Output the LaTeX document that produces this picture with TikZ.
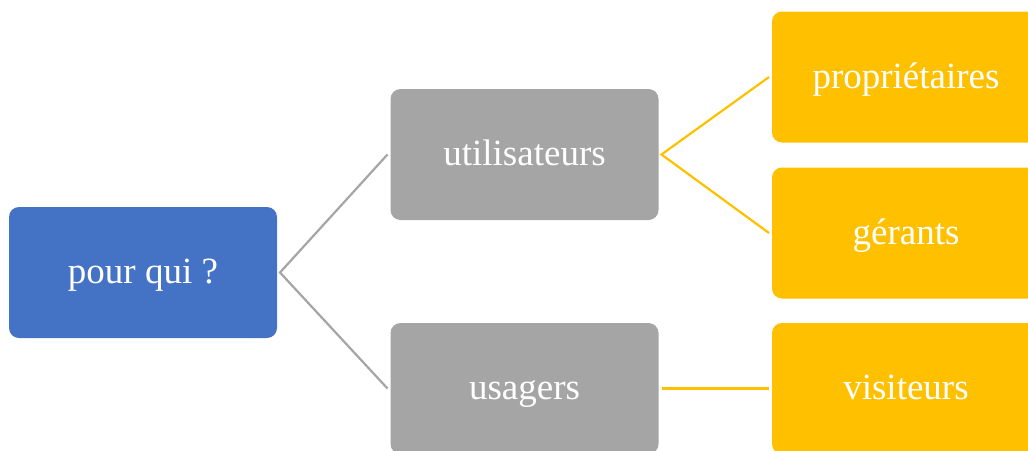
\documentclass[tikz,border=0pt]{standalone}
\usepackage{fontspec}
\setmainfont{Liberation Serif}
\definecolor{cblue}{HTML}{4472C4}
\definecolor{cgray}{HTML}{A5A5A5}
\definecolor{cyellow}{HTML}{FFC000}
\tikzset{
  box/.style={rectangle, rounded corners=10pt, minimum width=268pt, minimum height=131pt,
    inner sep=0pt, outer sep=3pt, text=white, text height=27pt, text depth=5pt,
    font=\fontsize{37}{44}\selectfont},
  bluebox/.style={box, fill=cblue},
  graybox/.style={box, fill=cgray},
  yellowbox/.style={box, fill=cyellow},
  grayline/.style={draw=cgray, line width=2.2pt},
  yellowline/.style={draw=cyellow, line width=2.2pt}
}
\begin{document}
\begin{tikzpicture}[x=1pt,y=-1pt]
\clip (0,0) rectangle (1028,450);
\useasboundingbox (0,0) rectangle (1028,450);
\node[bluebox] (root) at (143,272.5) {pour qui ?};
\node[graybox] (util) at (524.5,154.5) {utilisateurs};
\node[graybox] (usag) at (524.5,388.5) {usagers};
\node[yellowbox] (prop) at (906,77) {propriétaires};
\node[yellowbox] (gera) at (906,233) {gérants};
\node[yellowbox] (visi) at (906,388.5) {visiteurs};
\draw[grayline] (util.west) -- (root.east) -- (usag.west);
\draw[yellowline] (prop.west) -- (util.east) -- (gera.west);
\draw[yellowline] (usag.east) -- (visi.west);
\end{tikzpicture}
\end{document}
